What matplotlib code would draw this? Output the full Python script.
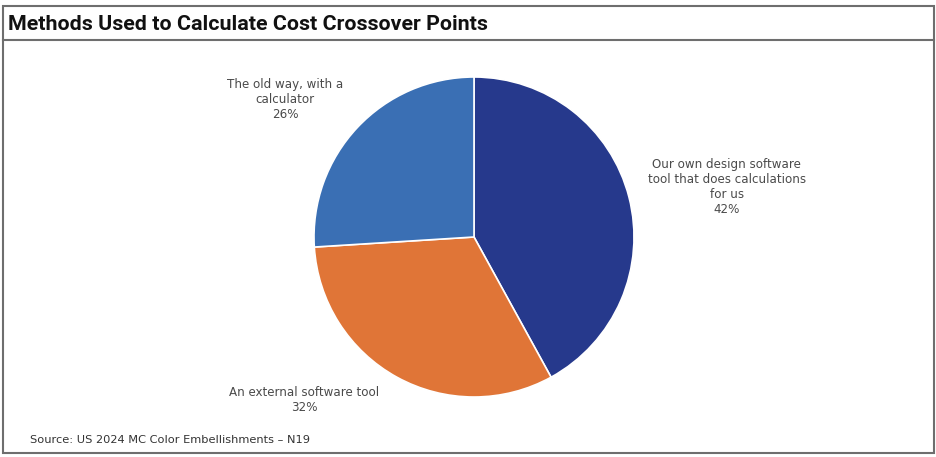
import matplotlib.pyplot as plt
from matplotlib.patches import Rectangle
from matplotlib.lines import Line2D

# Survey responses: how companies calculate cost crossover points
methods = [
    "Our own design software\ntool that does calculations\nfor us",
    "An external software tool",
    "The old way, with a\ncalculator",
]
shares = [42, 32, 26]
colors = ["#26398c", "#e07537", "#3a6fb4"]

# label anchor offsets in pie data units (radius = 1)
label_pos = [(1.58, 0.31), (-1.06, -1.02), (-1.18, 0.86)]

W, H = 937, 457
fig = plt.figure(figsize=(W / 100, H / 100), dpi=100)

# outer frame and title bar rules
fig.add_artist(Rectangle((3 / W, 4 / H), (W - 6) / W, (H - 10) / H,
                         transform=fig.transFigure, fill=False,
                         edgecolor="#6e6e6e", linewidth=1.5))
fig.add_artist(Line2D([3 / W, 1 - 3 / W], [1 - 40 / H, 1 - 40 / H],
                      transform=fig.transFigure, color="#6e6e6e", linewidth=1.5))
fig.text(8 / W, 1 - 24 / H, "Methods Used to Calculate Cost Crossover Points",
         fontsize=15.4, fontweight="bold", family="Roboto", color="#111111",
         va="center", ha="left")

# pie axes: center (474, 237) px, radius 160 px
cx, cy, r = 474, 237, 160
ax = fig.add_axes([(cx - r) / W, (H - cy - r) / H, 2 * r / W, 2 * r / H])
ax.pie(shares, colors=colors, startangle=90, counterclock=False, radius=1,
       wedgeprops=dict(edgecolor="white", linewidth=1.2))
ax.set_xlim(-1, 1)
ax.set_ylim(-1, 1)
ax.set_aspect("equal")
ax.axis("off")

for name, val, (lx, ly) in zip(methods, shares, label_pos):
    ax.text(lx, ly, f"{name}\n{val}%", ha="center", va="center",
            fontsize=8.6, family="DejaVu Sans", color="#4a4a4a",
            linespacing=1.2, clip_on=False)

fig.text(30 / W, 1 - 440 / H, "Source: US 2024 MC Color Embellishments \u2013 N19",
         fontsize=8.2, family="DejaVu Sans", color="#333333", va="center", ha="left")

fig.savefig("out.png", dpi=100)
